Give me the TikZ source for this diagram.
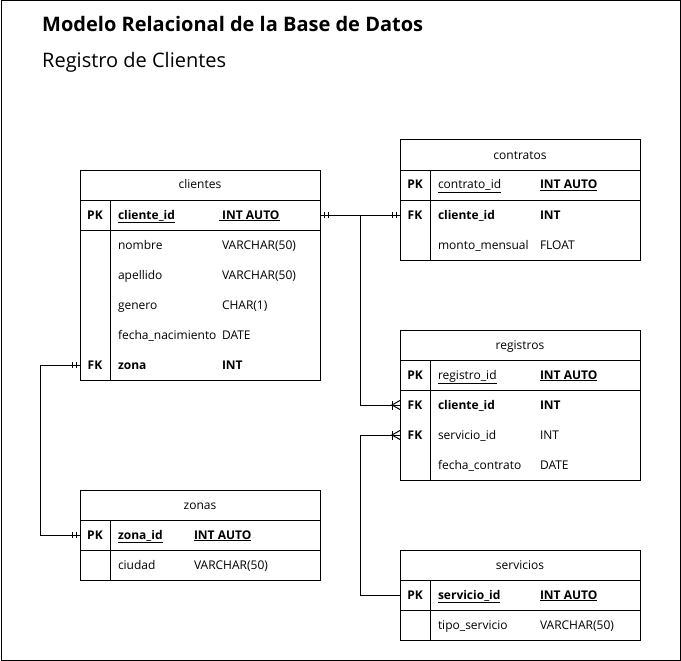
\documentclass[tikz,border=0pt]{standalone}
\usepackage{fontspec}
\setmainfont{Open Sans}
\begin{document}
\begin{tikzpicture}[x=1pt,y=-1pt,
  tbl/.style={draw=black, line width=1pt},
  conn/.style={draw=black, line width=1pt},
  rowbox/.style={anchor=north west, minimum width=240pt, minimum height=30pt, inner sep=0pt, outer sep=0pt},
  txt/.style={inner sep=0pt, outer sep=0pt, font=\fontsize{12}{14}\selectfont, text=black},
  keytxt/.style={txt, anchor=base, font=\fontsize{12}{14}\selectfont\bfseries},
  nametxt/.style={txt, anchor=base west},
  hdrtxt/.style={txt, anchor=base},
  titletxt/.style={inner sep=0pt, anchor=base west, font=\fontsize{20}{24}\selectfont}
]
\newcommand{\fld}[5]{%
  \node[keytxt] (#1-k) at ([xshift=15pt,yshift=-4pt]#1.west) {#2};
  \node[nametxt] (#1-n) at ([xshift=38pt,yshift=-4pt]#1.west) {#3};
  \node[nametxt] (#1-t) at ([xshift=#5,yshift=-4pt]#1.west) {#4};}
\newcommand{\hdr}[2]{\node[hdrtxt] (#1-txt) at ([yshift=-4pt]#1.center) {#2};}

\useasboundingbox (0,0) rectangle (681,661);
\draw[tbl] (1,1) rectangle (680,660);

\node[titletxt, font=\fontsize{20}{24}\selectfont\bfseries] (title) at (42,32) {Modelo Relacional de la Base de Datos};
\node[titletxt] (subtitle) at (42,68) {Registro de Clientes};

% ---------- clientes ----------
\node[rowbox] (cli-h) at (80,170) {};
\node[rowbox] (cli-1) at (80,200) {};
\node[rowbox] (cli-2) at (80,230) {};
\node[rowbox] (cli-3) at (80,260) {};
\node[rowbox] (cli-4) at (80,290) {};
\node[rowbox] (cli-5) at (80,320) {};
\node[rowbox] (cli-6) at (80,350) {};
\draw[tbl] (cli-h.north west) rectangle (cli-6.south east);
\draw[tbl] (cli-h.south west) -- (cli-h.south east);
\draw[tbl] (cli-1.south west) -- (cli-1.south east);
\draw[tbl] ([xshift=30pt]cli-1.north west) -- ([xshift=30pt]cli-6.south west);
\hdr{cli-h}{clientes}
\fld{cli-1}{PK}{\bfseries\underline{cliente\_id}}{\bfseries\underline{\ INT AUTO}}{139pt}
\fld{cli-2}{}{nombre}{VARCHAR(50)}{142pt}
\fld{cli-3}{}{apellido}{VARCHAR(50)}{142pt}
\fld{cli-4}{}{genero}{CHAR(1)}{142pt}
\fld{cli-5}{}{fecha\_nacimiento}{DATE}{142pt}
\fld{cli-6}{FK}{\bfseries zona}{\bfseries INT}{142pt}

% ---------- contratos ----------
\node[rowbox] (con-h) at (400,140) {};
\node[rowbox] (con-1) at (400,170) {};
\node[rowbox] (con-2) at (400,200) {};
\node[rowbox] (con-3) at (400,230) {};
\draw[tbl] (con-h.north west) rectangle (con-3.south east);
\draw[tbl] (con-h.south west) -- (con-h.south east);
\draw[tbl] (con-1.south west) -- (con-1.south east);
\draw[tbl] ([xshift=30pt]con-1.north west) -- ([xshift=30pt]con-3.south west);
\hdr{con-h}{contratos}
\fld{con-1}{PK}{\underline{contrato\_id}}{\bfseries\underline{INT AUTO}}{140pt}
\fld{con-2}{FK}{\bfseries cliente\_id}{\bfseries INT}{140pt}
\fld{con-3}{}{monto\_mensual}{FLOAT}{140pt}

% ---------- registros ----------
\node[rowbox] (reg-h) at (400,330) {};
\node[rowbox] (reg-1) at (400,360) {};
\node[rowbox] (reg-2) at (400,390) {};
\node[rowbox] (reg-3) at (400,420) {};
\node[rowbox] (reg-4) at (400,450) {};
\draw[tbl] (reg-h.north west) rectangle (reg-4.south east);
\draw[tbl] (reg-h.south west) -- (reg-h.south east);
\draw[tbl] (reg-1.south west) -- (reg-1.south east);
\draw[tbl] ([xshift=30pt]reg-1.north west) -- ([xshift=30pt]reg-4.south west);
\hdr{reg-h}{registros}
\fld{reg-1}{PK}{\underline{registro\_id}}{\bfseries\underline{INT AUTO}}{140pt}
\fld{reg-2}{FK}{\bfseries cliente\_id}{\bfseries INT}{140pt}
\fld{reg-3}{FK}{servicio\_id}{INT}{140pt}
\fld{reg-4}{}{fecha\_contrato}{DATE}{140pt}

% ---------- zonas ----------
\node[rowbox] (zon-h) at (80,490) {};
\node[rowbox] (zon-1) at (80,520) {};
\node[rowbox] (zon-2) at (80,550) {};
\draw[tbl] (zon-h.north west) rectangle (zon-2.south east);
\draw[tbl] (zon-h.south west) -- (zon-h.south east);
\draw[tbl] (zon-1.south west) -- (zon-1.south east);
\draw[tbl] ([xshift=30pt]zon-1.north west) -- ([xshift=30pt]zon-2.south west);
\hdr{zon-h}{zonas}
\fld{zon-1}{PK}{\bfseries\underline{zona\_id}}{\bfseries\underline{INT AUTO}}{114pt}
\fld{zon-2}{}{ciudad}{VARCHAR(50)}{114pt}

% ---------- servicios ----------
\node[rowbox] (srv-h) at (400,550) {};
\node[rowbox] (srv-1) at (400,580) {};
\node[rowbox] (srv-2) at (400,610) {};
\draw[tbl] (srv-h.north west) rectangle (srv-2.south east);
\draw[tbl] (srv-h.south west) -- (srv-h.south east);
\draw[tbl] (srv-1.south west) -- (srv-1.south east);
\draw[tbl] ([xshift=30pt]srv-1.north west) -- ([xshift=30pt]srv-2.south west);
\hdr{srv-h}{servicios}
\fld{srv-1}{PK}{\bfseries\underline{servicio\_id}}{\bfseries\underline{INT AUTO}}{140pt}
\fld{srv-2}{}{tipo\_servicio}{VARCHAR(50)}{140pt}

% ---------- connectors ----------
\coordinate (jx) at (360,0);
\coordinate (jz) at (40,0);
\draw[conn] (cli-1.east) -- (con-2.west);
\draw[conn] (cli-1.east) -| (jx |- reg-2.west) -- (reg-2.west);
\draw[conn] (srv-1.west) -| (jx |- reg-3.west) -- (reg-3.west);
\draw[conn] (cli-6.west) -| (jz |- zon-1.west) -- (zon-1.west);

% mandatory-one marks
\foreach \n/\s in {cli-1.east/1, con-2.west/-1, cli-6.west/-1, zon-1.west/-1}{
  \draw[conn] ([xshift=\s*4pt,yshift=-3pt]\n) -- ([xshift=\s*4pt,yshift=3pt]\n);
  \draw[conn] ([xshift=\s*8pt,yshift=-3pt]\n) -- ([xshift=\s*8pt,yshift=3pt]\n);
}
% one-or-many marks
\foreach \n in {reg-2.west, reg-3.west}{
  \draw[conn] ([xshift=-8pt,yshift=-4.5pt]\n) -- ([xshift=-8pt,yshift=4.5pt]\n);
  \draw[conn] ([yshift=-4.5pt]\n) -- ([xshift=-8pt]\n) -- ([yshift=4.5pt]\n);
}
\end{tikzpicture}
\end{document}
